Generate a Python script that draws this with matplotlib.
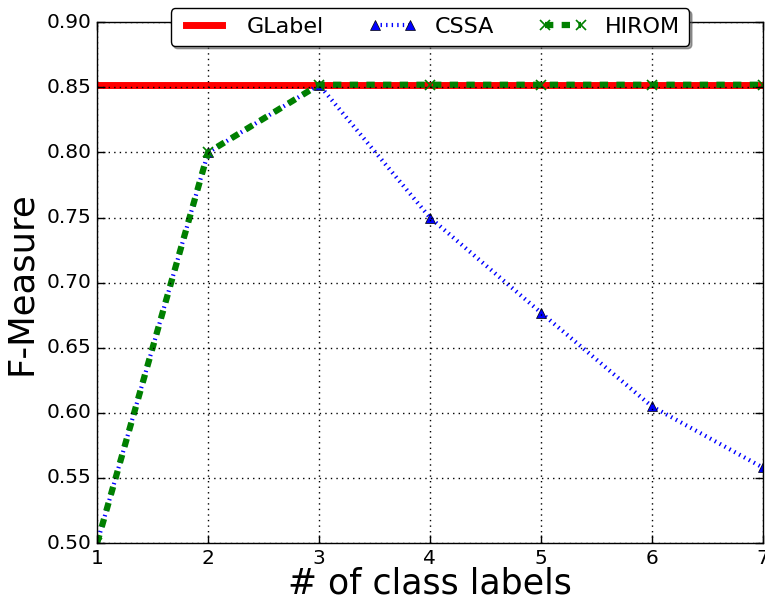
import numpy as np
import matplotlib
matplotlib.use("Agg")
import matplotlib.pyplot as plt

plt.style.use("classic")
plt.rcParams["font.family"] = ["DejaVu Sans"]

labels = [1, 2, 3, 4, 5, 6, 7]
glabel = [0.852, 0.852, 0.852, 0.852, 0.852, 0.852, 0.852]
cssa = [0.50, 0.80, 0.852, 0.750, 0.677, 0.605, 0.558]
hirom = [0.50, 0.80, 0.852, 0.852, 0.852, 0.852, 0.852]

fig = plt.figure(figsize=(7.65, 6.02), dpi=100)
ax = fig.add_axes([0.127, 0.098, 0.870, 0.865])

ax.plot(labels, glabel, color="red", lw=5, label="GLabel")
ax.plot(labels, cssa, color="blue", ls=":", lw=3, marker="^", ms=7,
        mfc="blue", mec="black", label="CSSA")
ax.plot(labels, hirom, color="green", ls="--", lw=4.5, marker="x", ms=7,
        mew=1.2, mec="green", label="HIROM")

ax.set_xlim(1, 7)
ax.set_ylim(0.50, 0.90)
ax.set_xticks(labels)
ax.set_yticks(np.arange(0.50, 0.901, 0.05))
ax.set_yticklabels([f"{v:.2f}" for v in np.arange(0.50, 0.901, 0.05)])
ax.tick_params(labelsize=14.5, direction="in", length=6, width=1)
ax.grid(True, ls=":", color="black", lw=1)

ax.set_xlabel("# of class labels", fontsize=25, labelpad=-1)
ax.set_ylabel("F-Measure", fontsize=25.5, labelpad=6)

ax.legend(loc="upper center", bbox_to_anchor=(0.5, 1.04), ncol=3,
          fontsize=16, numpoints=2, fancybox=True, shadow=True,
          handlelength=2.2, columnspacing=2.0, borderaxespad=0.3)

fig.savefig("out.png", dpi=100)
